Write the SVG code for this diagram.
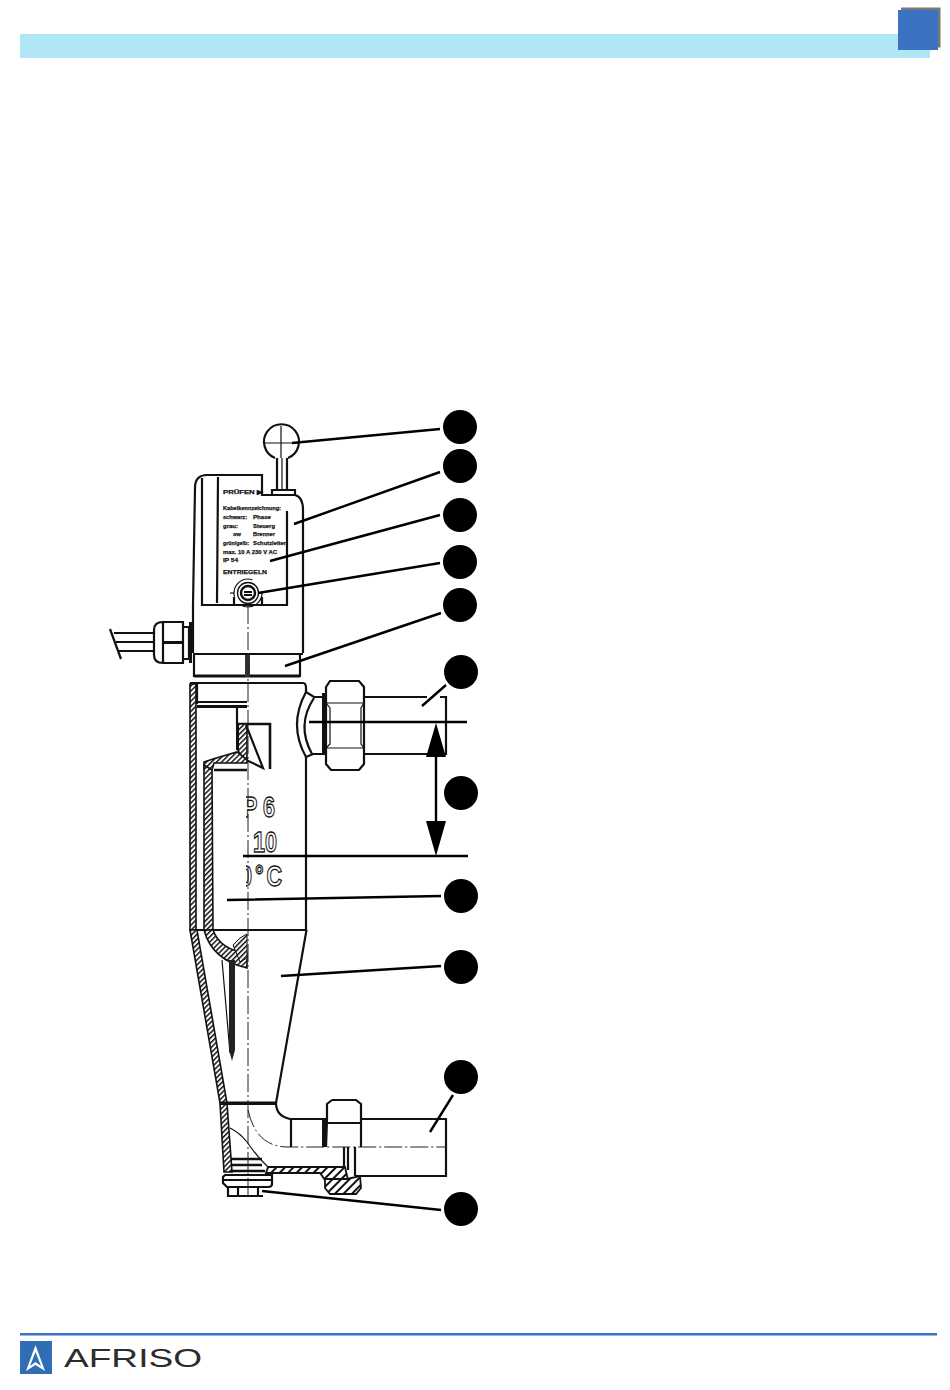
<svg xmlns="http://www.w3.org/2000/svg" width="950" height="1390" viewBox="0 0 950 1390">
<style>
.l{fill:none;stroke:#111;stroke-width:2.2}
.t{fill:none;stroke:#111;stroke-width:1.2}
.c{fill:none;stroke:#222;stroke-width:1;stroke-dasharray:18 3 2 3}
.lead{fill:none;stroke:#000;stroke-width:2.4}
.w{fill:url(#hatch);stroke:#111;stroke-width:1.6}
.w2{fill:url(#hatch2);stroke:#111;stroke-width:1.8}
.lab{font-family:"Liberation Sans",Arial,sans-serif;font-size:6.200px;font-weight:bold;fill:#111;stroke:#111;stroke-width:.25}
.big{font-family:"Liberation Sans",Arial,sans-serif;font-size:30px;font-weight:bold;fill:#fff;stroke:#111;stroke-width:1.300}
.ring{fill:none;stroke:#111}
circle.n{fill:#000}
</style>
<defs>
<pattern id="hatch" width="3.6" height="3.6" patternUnits="userSpaceOnUse" patternTransform="rotate(-45)">
<rect width="3.6" height="3.6" fill="#fff"/><rect width="3.6" height="1.500" fill="#111"/>
</pattern>
<pattern id="hatch2" width="6" height="6" patternUnits="userSpaceOnUse" patternTransform="rotate(-45)">
<rect width="6" height="6" fill="#fff"/><rect width="6" height="2" fill="#111"/>
</pattern>
<clipPath id="cr"><rect x="246" y="780" width="60" height="120"/></clipPath>
</defs>
<rect width="950" height="1390" fill="#fff"/>
<g id="header">
<rect x="20" y="34" width="910" height="24" fill="#b0e6f5"/>
<rect x="901" y="7.500" width="39.500" height="40" fill="#777"/>
<rect x="898" y="10" width="40" height="40" fill="#3b72c1"/>
</g>
<g id="device">
<!-- cable and gland -->
<path class="l" d="M110 629L121 659M114 633H154M116 642H154M118 651H154"/>
<path class="l" d="M163 622H183V663H163Q154 663 154 655V630Q154 622 163 622ZM163 622V663M183 627H189V659H183"/>
<path d="M163 641H183V644H163ZM189 622H192V663H189Z" fill="#111"/>
<!-- housing -->
<path class="l" d="M193 653V605L195 488Q195 475 207 475H262V495H295Q303 497 303 510V653"/>
<path class="l" d="M202 478V605H287V511M218 477L217 603"/>
<g style="opacity:.99">
<text class="lab" x="223" y="494" textLength="40" lengthAdjust="spacingAndGlyphs">PRÜFEN ▶</text>
<text class="lab" x="223" y="510" textLength="58" lengthAdjust="spacingAndGlyphs">Kabelkennzeichnung:</text>
<text class="lab" x="223" y="519" textLength="24" lengthAdjust="spacingAndGlyphs">schwarz:</text><text class="lab" x="253" y="519" textLength="18" lengthAdjust="spacingAndGlyphs">Phase</text>
<text class="lab" x="223" y="528" textLength="15" lengthAdjust="spacingAndGlyphs">grau:</text><text class="lab" x="253" y="528" textLength="22" lengthAdjust="spacingAndGlyphs">Steuerg</text>
<text class="lab" x="233" y="536" textLength="8" lengthAdjust="spacingAndGlyphs">sw</text><text class="lab" x="253" y="536" textLength="22" lengthAdjust="spacingAndGlyphs">Brenner</text>
<text class="lab" x="223" y="545" textLength="26" lengthAdjust="spacingAndGlyphs">grün/gelb:</text><text class="lab" x="253" y="545" textLength="33" lengthAdjust="spacingAndGlyphs">Schutzleiter</text>
<text class="lab" x="223" y="554" textLength="54" lengthAdjust="spacingAndGlyphs">max. 10 A 230 V AC</text>
<text class="lab" x="223" y="562" textLength="15" lengthAdjust="spacingAndGlyphs">IP 54</text>
<text class="lab" x="223" y="574" textLength="44" lengthAdjust="spacingAndGlyphs">ENTRIEGELN</text>
</g>
<!-- handle -->
<path class="l" d="M275 458A17.500 17.500 0 1 1 288 458"/>
<path class="t" d="M264 443H298M281 426V458"/>
<path class="l" d="M277 458V490M287 458V490"/>
<path class="t" d="M282 458V490"/>
<path class="l" d="M272 495V490H295V495"/>
<!-- release button -->
<circle class="ring" cx="248" cy="593" r="14" stroke-width="1.200" stroke-dasharray="30 10 30 18"/>
<circle class="ring" cx="248" cy="593" r="10.500" stroke-width="1.300"/>
<circle class="ring" cx="248" cy="593" r="7" stroke-width="2.400"/>
<path class="l" d="M244 592H252M244 595H252"/>
<path class="t" d="M230 593H234"/>
<path class="l" d="M234 604V597M262 604V597"/>
<!-- union under housing -->
<path class="l" d="M193 654H303M194 655V676H300V655"/>
<path class="l" d="M194 676H300" style="stroke-width:3"/>
<path d="M245 655H250V677H245Z" fill="#333"/>
<!-- main body -->
<path class="l" d="M190 683H303Q306 683 306 688V692M306 757V930H190"/>
<path class="l" d="M197 683V704M197 702H247"/>
<path d="M197 705H247V708H197Z" fill="#111"/>
<path class="w" d="M190 684H196V930H190Z"/>
<path class="l" d="M237 708V724"/>
<path class="l" d="M238 724H270V769" style="stroke-width:2.600"/>
<path class="w" d="M237 724H247V760L240 754L237 748Z"/>
<path d="M236 724H239V750H236Z" fill="#111"/>
<path class="l" d="M246 725L263 768L240 757"/>
<path class="w" d="M204 762L213 759L237 752L247 760V763H214L212 770H204Z"/>
<path class="l" d="M214 770H247" style="stroke-width:2.600"/>
<path class="w" d="M204 765L212 770L213 930H204Z"/>
<path class="w" d="M204 930H213Q220 950 247 953V968Q212 960 204 930Z"/>
<!-- side port -->
<path class="l" d="M306 692Q288 725 306 757"/>
<path class="l" d="M306 692L314 697H326M306 757L313 754H326"/>
<path class="l" d="M314 698Q296 725 312 754"/>
<path d="M322 693H326V755H322Z" fill="#111"/>
<path class="l" d="M330 681H359L364 687V764L359 770H331L326 764V687Z"/>
<path class="t" d="M326 703H364M326 748H364M326 703L330 708V744L326 748M364 703L361 708V744L364 748"/>
<path class="l" d="M364 697H427M440 697H446V754H364"/>
<!-- labels on casting -->
<g clip-path="url(#cr)" style="opacity:.99">
<text class="big" transform="translate(243 817) scale(.72 1)">P 6</text>
<text class="big" transform="translate(253 852) scale(.72 1)">10</text>
<text class="big" transform="translate(240 886) scale(.72 1)" letter-spacing="4">0°C</text>
</g>
<!-- cone -->
<path class="l" d="M306.500 930L276 1103Q276 1116 290 1119H326M361 1119H446V1176H355"/>
<path class="w" d="M190 930L197 930L227 1103L232 1172H224L220 1103Z"/>
<path d="M220 1101.500H276V1105H220Z" fill="#111"/>
<path class="t" d="M222 960L230 1053"/>
<path d="M229 960H235L235 1050L232 1061L229 1050Z" fill="#222"/>
<path class="w" d="M233 945L240 938L247 934V958L240 962Z" style="stroke-width:1"/>
<path class="t" d="M230 1128Q240 1133 247 1142Q258 1158 268 1167"/>
<path class="w2" d="M268 1167H345L348 1180H325L320 1173H266Z"/>
<path class="w2" d="M325 1179L347 1179L360 1176L361 1188L356 1194H330L325 1188Z"/>
<path class="l" d="M291 1119V1147M344 1147V1168M348 1147V1170M355 1147V1176"/>
<path class="l" d="M332 1100H356L361 1104V1120L361 1147M332 1100L327 1104V1120L326 1147"/>
<path class="l" d="M327 1123H361"/>
<path d="M322 1120H326V1147H322Z" fill="#111"/>
<path class="l" d="M231 1159H262M231 1165H262M231 1171H265" style="stroke-width:2.600"/>
<path class="l" d="M225 1175H272V1184Q272 1187 268 1187H227L223 1183V1177ZM224 1180H272"/>
<path class="l" d="M228 1187V1196H263M238 1187V1196M258 1187V1196"/>
</g>
<g id="centerlines">
<path class="c" d="M248 606V1197"/>
<path class="c" d="M248 1110Q256 1147 288 1147H446"/>
</g>
<g id="connectors">
<path class="lead" d="M292 443L440 429M294 524L440 472M270 561L440 515M258 593L440 563M285 666L441 613M422 706L446 685M227 900L441 896M281 976L441 966M430 1132L453 1095M262 1191L441 1210"/>
<path class="lead" d="M309 722H467M243 856H468"/>
<path class="lead" d="M436 750V825"/>
<path d="M436 723L446 757H426ZM436 856L426 821H446Z" fill="#000"/>
</g>
<g id="n1"><circle class="n" cx="460" cy="427" r="17"/></g>
<g id="n2"><circle class="n" cx="460" cy="466" r="17"/></g>
<g id="n3"><circle class="n" cx="460" cy="515" r="17"/></g>
<g id="n4"><circle class="n" cx="460" cy="562" r="17"/></g>
<g id="n5"><circle class="n" cx="460" cy="605" r="17"/></g>
<g id="n6"><circle class="n" cx="461" cy="672" r="17"/></g>
<g id="n7"><circle class="n" cx="461" cy="793" r="17"/></g>
<g id="n8"><circle class="n" cx="461" cy="896" r="17"/></g>
<g id="n9"><circle class="n" cx="461" cy="967" r="17"/></g>
<g id="n10"><circle class="n" cx="461" cy="1077" r="17"/></g>
<g id="n11"><circle class="n" cx="461" cy="1209" r="17"/></g>
<g id="footer">
<rect x="20" y="1333" width="917" height="2.500" fill="#3b72c1"/>
<rect x="20" y="1341" width="32" height="33" fill="#2f6db5"/>
<path d="M35.500 1345L45 1371L35.500 1365L26 1371Z M35.500 1352L30 1366L35.500 1362L41 1366Z" fill="#fff" fill-rule="evenodd"/>
<text x="64" y="1367" font-family="Liberation Sans,Arial,sans-serif" font-size="26.500" fill="#2a2a2a" textLength="138" lengthAdjust="spacingAndGlyphs" style="opacity:.99">AFRISO</text>
</g>
</svg>
